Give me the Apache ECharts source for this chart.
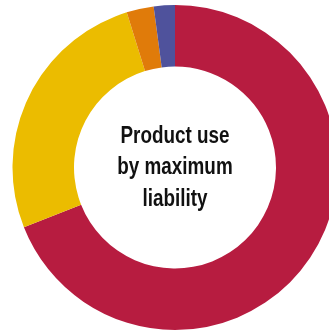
<!DOCTYPE html>
<html>
<head>
<meta charset="utf-8">
<script src="https://cdn.jsdelivr.net/npm/echarts@6/dist/echarts.min.js"></script>
<style>html,body{margin:0;padding:0;background:#fff}#c{width:329px;height:331px}</style>
</head>
<body>
<div id="c"></div>
<script>
var categories = ['Category A', 'Category B', 'Category C', 'Category D'];
var values = [69, 26.2, 2.7, 2.1];
var colors = ['#B71C40', '#EBBC00', '#E07B0A', '#4F529C'];
var centerText = 'Product use\nby maximum\nliability';

var chart = echarts.init(document.getElementById('c'), null, {renderer: 'canvas'});
chart.setOption({
  animation: false,
  graphic: [{
    type: 'text',
    x: 175, y: 168,
    scaleX: 0.82,
    style: {
      text: centerText,
      align: 'center',
      verticalAlign: 'middle',
      fontFamily: '"Liberation Sans", Arial, sans-serif',
      fontWeight: 'bold',
      fontSize: 23,
      lineHeight: 31.5,
      fill: '#111'
    }
  }],
  series: [{
    type: 'pie',
    center: [175, 167.5],
    radius: [101, 162.5],
    startAngle: 90,
    clockwise: true,
    label: {show: false},
    labelLine: {show: false},
    emphasis: {disabled: true},
    data: categories.map(function (c, i) {
      return {name: c, value: values[i], itemStyle: {color: colors[i]}};
    })
  }]
});
</script>
</body>
</html>
